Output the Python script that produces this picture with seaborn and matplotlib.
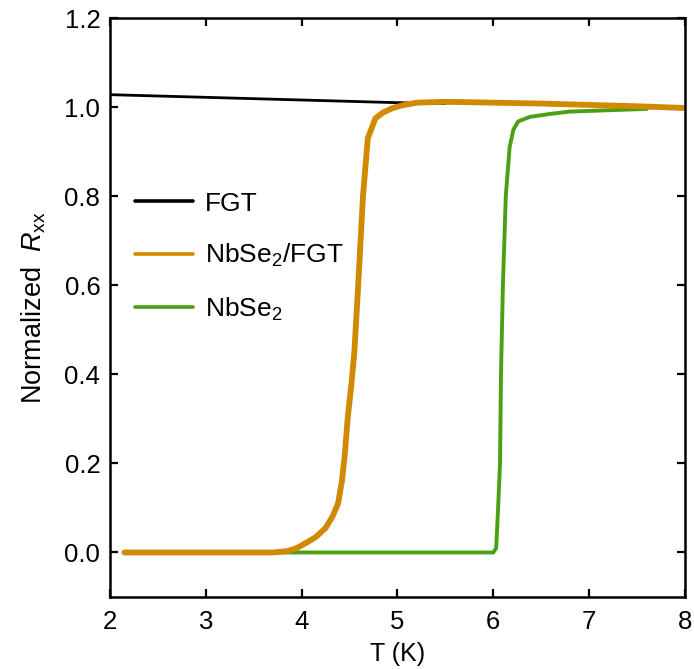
import matplotlib
matplotlib.use("Agg")
import matplotlib.pyplot as plt
import seaborn as sns
import numpy as np

sns.set_style("ticks")
plt.rcParams['font.family'] = ['Liberation Sans', 'DejaVu Sans']
plt.rcParams['mathtext.fontset'] = 'custom'
plt.rcParams['mathtext.rm'] = 'Liberation Sans'
plt.rcParams['mathtext.it'] = 'Liberation Sans:italic'
for k in ['text.color', 'axes.labelcolor', 'xtick.color', 'ytick.color', 'axes.edgecolor']:
    plt.rcParams[k] = 'black'

# FGT
fgt_T = [2.0, 2.5, 3.0, 3.5, 4.0, 4.5, 5.0, 5.5]
fgt_R = [1.028, 1.025, 1.022, 1.019, 1.016, 1.013, 1.010, 1.008]

# NbSe2/FGT
hyb_T = [2.15, 3.0, 3.7, 3.85, 3.95, 4.05, 4.15, 4.25, 4.32, 4.38, 4.42, 4.45, 4.48,
         4.52, 4.55, 4.59, 4.64, 4.69, 4.77, 4.85, 4.95, 5.05, 5.2, 5.5, 6.0, 6.5,
         7.0, 7.5, 8.0]
hyb_R = [0.0, 0.0, 0.0, 0.003, 0.01, 0.022, 0.035, 0.055, 0.08, 0.11, 0.16, 0.22, 0.30,
         0.38, 0.45, 0.60, 0.80, 0.93, 0.975, 0.988, 0.998, 1.004, 1.010, 1.012, 1.010,
         1.008, 1.005, 1.002, 0.998]

# NbSe2
nb_T = [2.15, 3.9, 6.0, 6.03, 6.05, 6.07, 6.08, 6.10, 6.13, 6.17, 6.21, 6.26,
        6.38, 6.6, 6.8, 7.2, 7.6]
nb_R = [0.0, 0.0, 0.0, 0.01, 0.1, 0.2, 0.4, 0.6, 0.8, 0.91, 0.95, 0.968,
        0.978, 0.985, 0.99, 0.993, 0.996]

labels = ['FGT', 'NbSe$_2$/FGT', 'NbSe$_2$']
colors = ['#000000', '#d18a00', '#4aa012']

fig = plt.figure(figsize=(6.94, 6.69), dpi=100)
ax = fig.add_axes([0.1585, 0.1076, 0.8285, 0.8654])

sns.lineplot(x=fgt_T, y=fgt_R, ax=ax, color=colors[0], lw=2.0, label=labels[0])
sns.lineplot(x=nb_T, y=nb_R, ax=ax, color=colors[2], lw=2.8, label=labels[2])
sns.lineplot(x=hyb_T, y=hyb_R, ax=ax, color=colors[1], lw=4.2, label=labels[1])

ax.set_xlim(2, 8)
ax.set_ylim(-0.1, 1.2)
ax.set_xticks([2, 3, 4, 5, 6, 7, 8])
ax.set_yticks([0.0, 0.2, 0.4, 0.6, 0.8, 1.0, 1.2])
ax.set_yticklabels([f"{v:.1f}" for v in [0.0, 0.2, 0.4, 0.6, 0.8, 1.0, 1.2]])
ax.tick_params(direction='in', length=6, width=1.6, labelsize=18.5,
               top=True, right=True)
ax.tick_params(axis='x', pad=9)
ax.tick_params(axis='y', pad=7)
for s in ax.spines.values():
    s.set_linewidth(1.8)
ax.set_xlabel('T (K)', fontsize=18, labelpad=6)
ax.set_ylabel('Normalized  $R_{\\rm xx}$', fontsize=19.5, labelpad=12)

h, l = ax.get_legend_handles_labels()
order = [0, 2, 1]
leg = ax.legend([h[i] for i in order], [l[i] for i in order], frameon=False,
                loc='upper left', bbox_to_anchor=(-0.012, 0.755), fontsize=19,
                handlelength=2.2, handletextpad=0.45, labelspacing=1.0,
                borderaxespad=0.8)
for line in leg.get_lines():
    line.set_linewidth(2.6)

fig.savefig('out.png', dpi=100)
